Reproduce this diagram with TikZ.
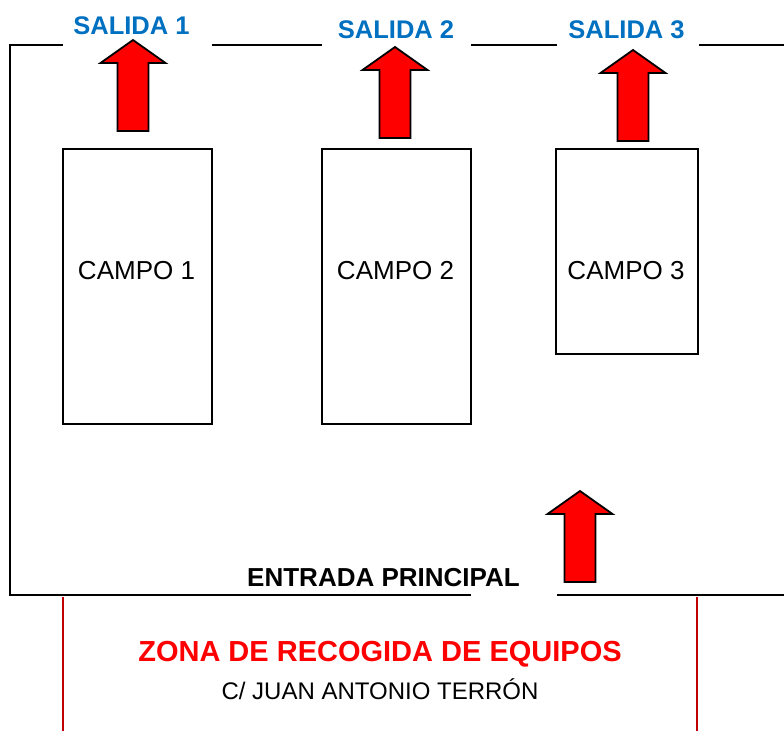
\documentclass[tikz,border=0pt]{standalone}
\usepackage{fontspec}
\setmainfont{Liberation Sans}
\usetikzlibrary{positioning}
\definecolor{azul}{HTML}{0070C0}
\definecolor{rojo}{HTML}{FF0000}
\definecolor{granate}{HTML}{C00000}
\tikzset{
  pared/.style={line width=2.4pt, black},
  campo/.style={rectangle, draw=black, line width=2pt, inner sep=0pt},
  campotexto/.style={font=\fontsize{26}{30}\selectfont, inner sep=0pt},
  salida/.style={font=\bfseries\fontsize{25.5}{30}\selectfont, text=azul, inner sep=0pt},
  flecha/.style={fill=rojo, draw=black, line width=1.8pt, line join=miter},
  limite/.style={line width=2pt, granate}
}
% flecha hacia arriba con la punta en (#1,#2)
\newcommand{\flecha}[2]{%
  \draw[flecha] (#1,#2) -- ++(32.5,23) -- ++(-17,0) -- ++(0,68) -- ++(-31,0)
    -- ++(0,-68) -- ++(-17,0) -- cycle;}

\begin{document}
\begin{tikzpicture}[x=1pt, y=-1pt]
    \useasboundingbox (0,0) rectangle (784,731);

    % recinto
    \coordinate (p1) at (63,45);
    \coordinate (p2) at (212,45);
    \coordinate (p3) at (322,45);
    \coordinate (p4) at (471,45);
    \coordinate (p5) at (557,45);
    \coordinate (p6) at (699,45);
    \coordinate (p7) at (784,45);
    \coordinate (q1) at (471,595);
    \coordinate (q2) at (557,595);
    \coordinate (q3) at (784,595);

    \draw[pared] (p1) -| (10,595) -- (q1);
    \draw[pared] (q2) -- (q3);
    \draw[pared] (p2) -- (p3);
    \draw[pared] (p4) -- (p5);
    \draw[pared] (p6) -- (p7);

    % campos
    \node (campo1) [campo, minimum width=149pt, minimum height=275pt] at (137.5,286.5) {};
    \node (campo2) [campo, minimum width=149pt, minimum height=275pt] at (396.5,286.5) {};
    \node (campo3) [campo, minimum width=142pt, minimum height=205pt] at (627,251.5) {};

    \node (txt1) [campotexto, below=113pt of campo1.north, xshift=-1pt] {CAMPO 1};
    \node (txt2) [campotexto, below=113pt of campo2.north, xshift=-1pt] {CAMPO 2};
    \node (txt3) [campotexto, below=113pt of campo3.north, xshift=-1pt] {CAMPO 3};

    % salidas
    \node (sal1) [salida] at (131.5,26) {SALIDA 1};
    \node (sal2) [salida] at (396,30) {SALIDA 2};
    \node (sal3) [salida] at (626.5,30) {SALIDA 3};

    \flecha{133}{40}
    \flecha{395}{47}
    \flecha{633}{50}
    \flecha{580}{491}

    % entrada
    \node (entrada) [font=\bfseries\fontsize{26}{30}\selectfont, inner sep=0pt] at (383.5,578) {ENTRADA PRINCIPAL};

    % zona de recogida
    \draw[limite] (63,597) -- (63,731);
    \draw[limite] (697,597) -- (697,731);
    \node (zona) [font=\bfseries\fontsize{29}{34}\selectfont, text=rojo, inner sep=0pt] at (380,654) {ZONA DE RECOGIDA DE EQUIPOS};
    \node (calle) [font=\fontsize{24}{28}\selectfont, inner sep=0pt, below=11pt of zona] {C/ JUAN ANTONIO TERRÓN};

\end{tikzpicture}
\end{document}
